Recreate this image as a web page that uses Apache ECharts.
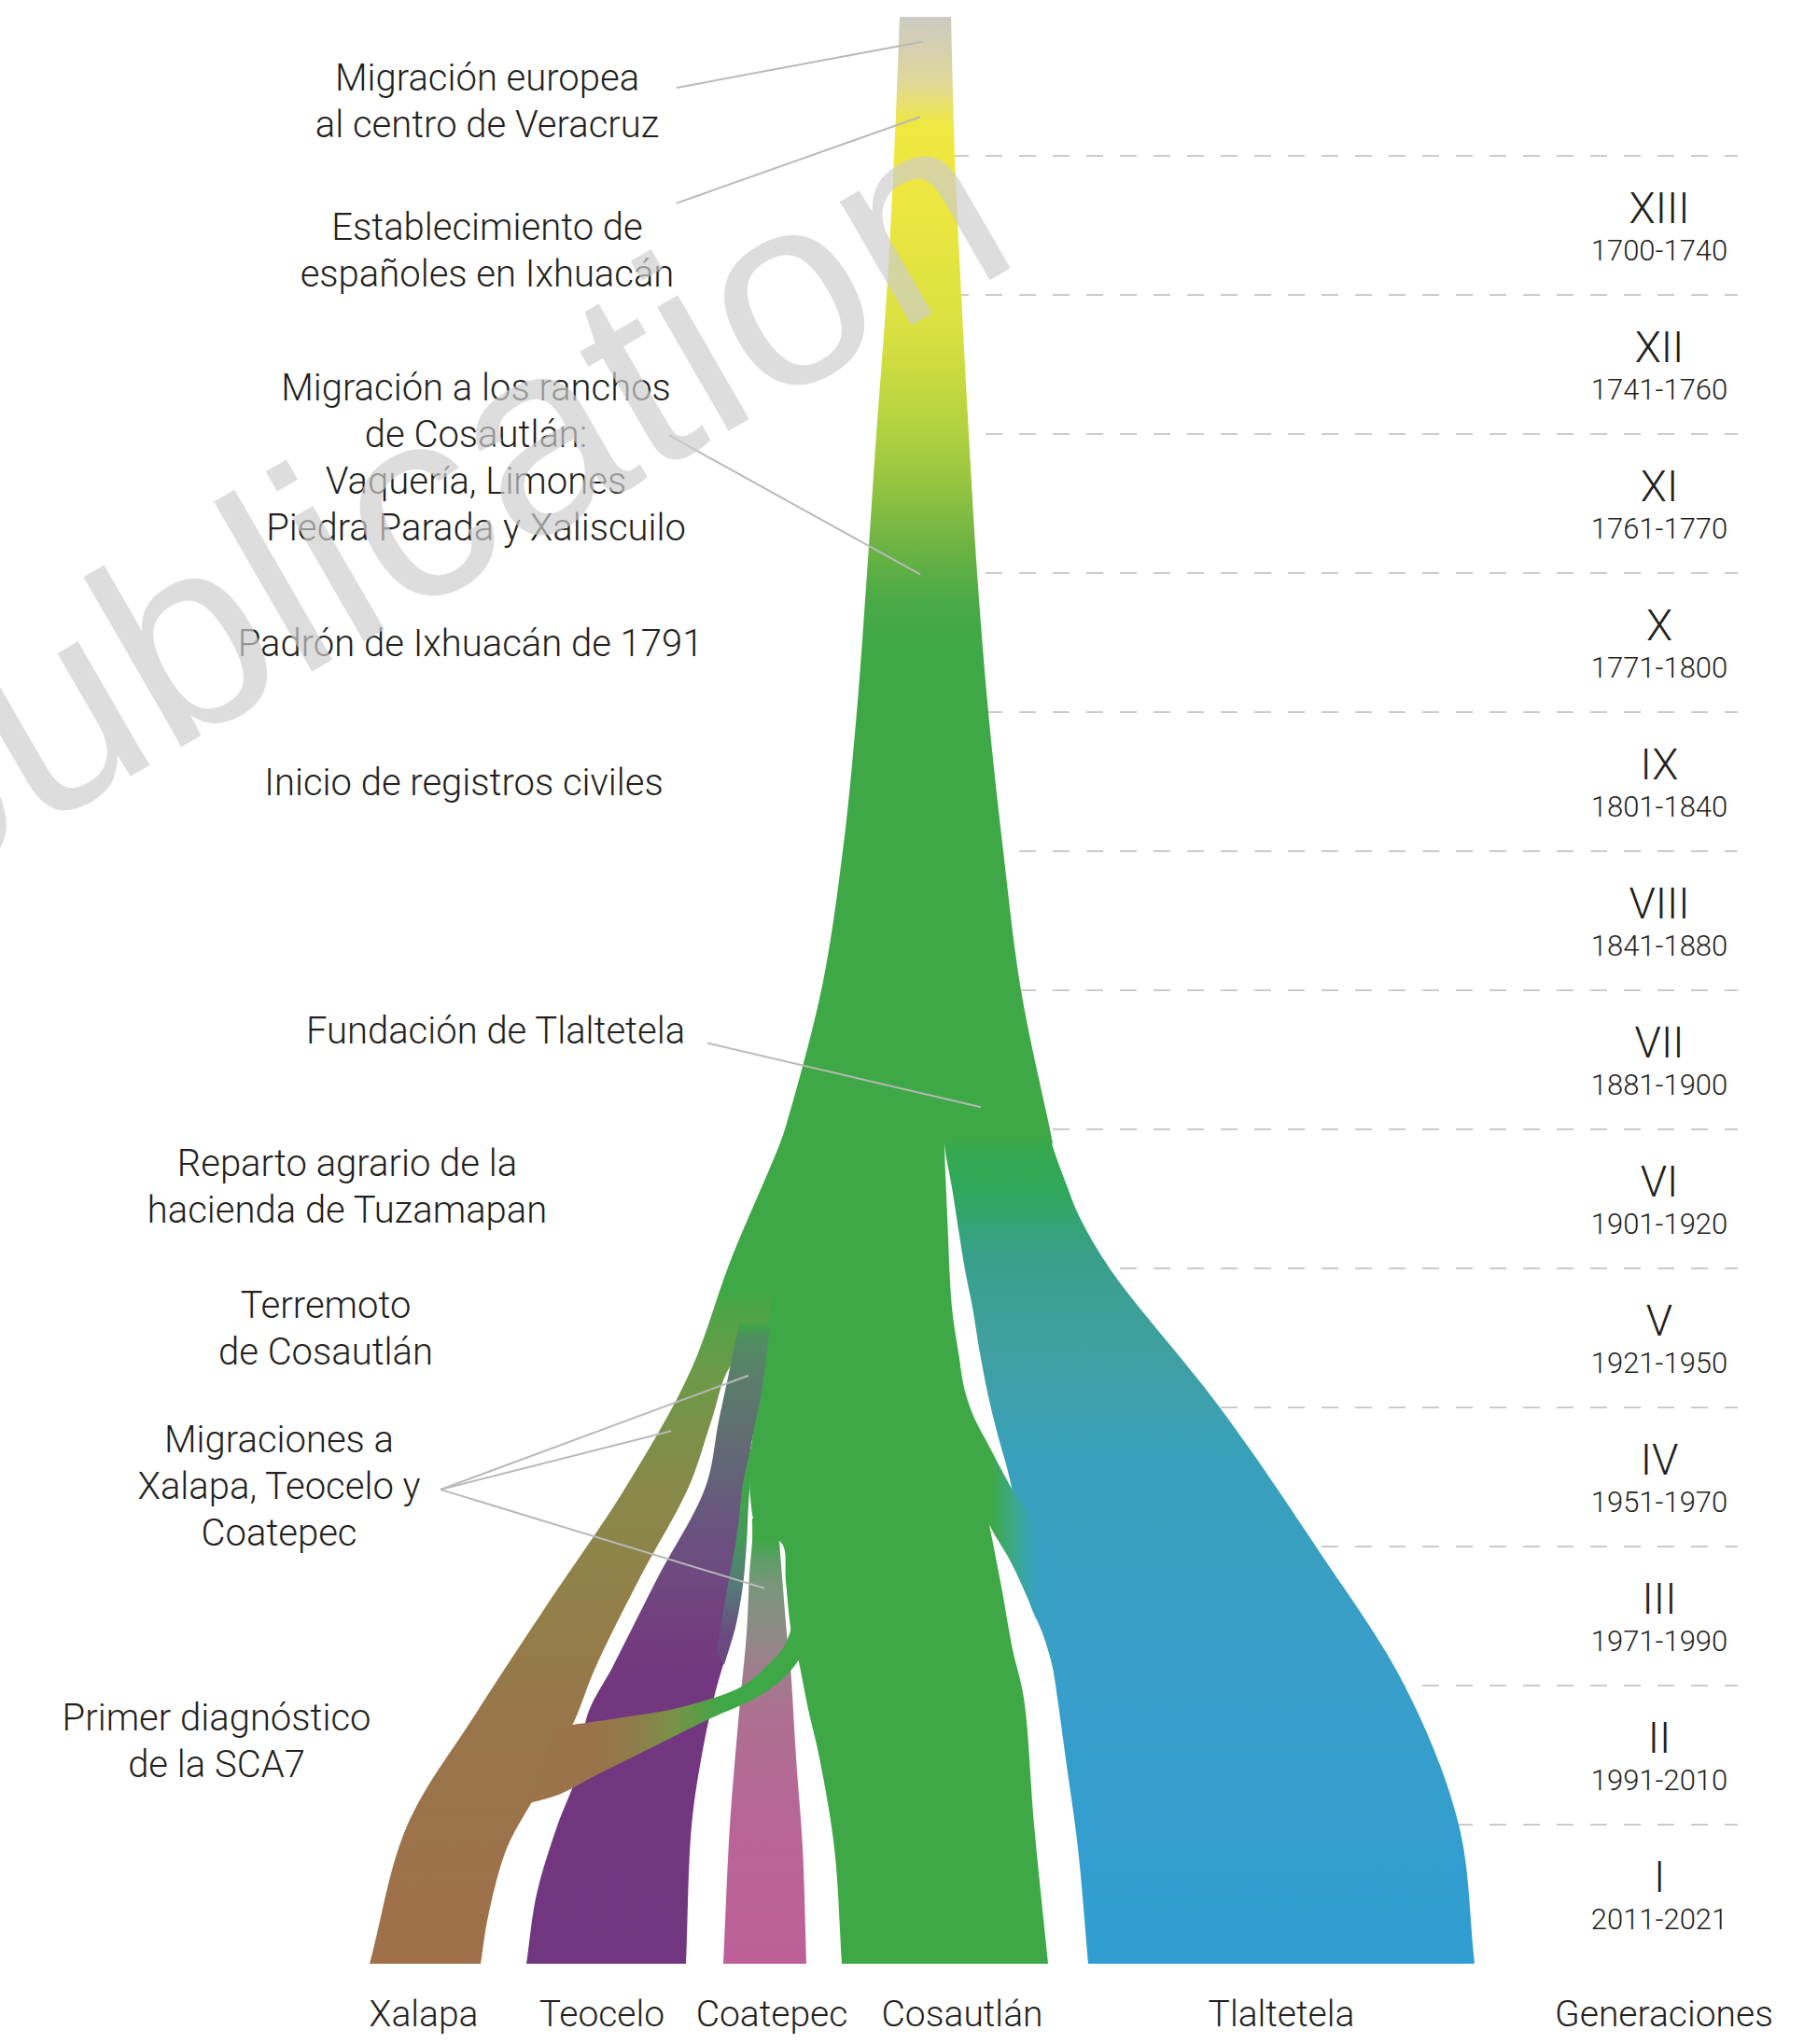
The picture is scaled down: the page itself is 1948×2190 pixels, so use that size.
<!DOCTYPE html>
<html lang="es">
<head>
  <meta charset="UTF-8">
  <meta name="viewport" content="width=device-width, initial-scale=1.0">
  <title>Generaciones SCA7</title>
  <!-- echarts -->
  <script src="https://cdn.jsdelivr.net/npm/echarts@6.0.0/dist/echarts.min.js"></script>
  <style>
    html, body { margin: 0; padding: 0; background: #fff; }
    #chart { width: 1948px; height: 2190px; }
  </style>
</head>
<body>
  <div id="chart"></div>
  <script type="text/javascript">
    // generaciones, de la mas antigua (arriba) a la mas reciente (abajo)
    var generations = ['XIII', 'XII', 'XI', 'X', 'IX', 'VIII', 'VII', 'VI', 'V', 'IV', 'III', 'II', 'I'];
    var genYears = ['1700-1740', '1741-1760', '1761-1770', '1771-1800', '1801-1840', '1841-1880',
                    '1881-1900', '1901-1920', '1921-1950', '1951-1970', '1971-1990', '1991-2010', '2011-2021'];
    var genBounds = [1, 2, 3, 4, 5, 6, 7, 8, 9, 10, 11, 12, 13];

    // bordes de cada rama: [posicion horizontal, nivel generacional (0 = hoy, 14 = origen)]
    var trunkLeft  = [[964, 14], [958, 13], [950, 12], [939, 11], [929, 10], [918, 9], [903, 8], [880, 7], [841, 6], [836, 5.9]];
    var trunkRight = [[1019, 14], [1023, 13], [1030, 12], [1038, 11], [1047, 10], [1059, 9], [1075, 8], [1094, 7], [1125, 6], [1128, 5.9]];

    var tlalLeft  = [[1012, 6.3], [1012, 5.9], [1020, 5.58], [1034, 4.99], [1042, 4.72], [1050, 4.39], [1060, 4.05], [1070, 3.78], [1080, 3.54],
                     [1086, 3.35], [1092, 3.0], [1103, 2.6], [1117, 2.38], [1127, 2.16], [1133, 1.91], [1142, 1.47], [1155, 0.83], [1166, 0]];
    var tlalRight = [[1114, 6.3], [1127, 5.9], [1144, 5.58], [1156, 5.38], [1190, 4.99], [1307, 4.0], [1411, 2.99], [1505, 2.0], [1563, 1.0], [1580, 0]];

    var cosLeft  = [[880, 6.3], [862, 5.9], [840, 5.4], [825, 4.7], [815, 4.3], [808, 3.9], [804, 3.6], [804, 3.35], [812, 3.12], [838, 3.02],
                    [842, 2.75], [848, 2.38], [855, 2.2], [866, 1.83], [878, 1.48], [894, 0.83], [902, 0]];
    var cosRight = [[1012, 6.3], [1012, 5.9], [1015, 5.38], [1020, 4.72], [1027, 4.39], [1032, 4.17], [1040, 3.92], [1050, 3.52], [1060, 3.16],
                    [1073, 2.71], [1085, 2.26], [1097, 1.91], [1108, 1.0], [1123, 0]];

    var xalLeft  = [[855, 6.3], [841, 5.99], [783, 5.06], [739, 4.25], [668, 3.4], [590, 2.62], [510, 1.8], [436, 0.99], [396, 0]];
    var xalRight = [[900, 6.3], [868, 5.4], [836, 4.75], [806, 4.45], [781, 4.28], [762, 3.9], [738, 3.43], [686, 2.78], [638, 2.13],
                    [615, 1.74], [592, 1.45], [572, 1.19], [543, 0.83], [523, 0.34], [515, 0]];

    var teoLeft  = [[792, 4.6], [787, 4.45], [782, 4.28], [770, 3.9], [756, 3.43], [705, 2.78], [656, 2.13], [630, 1.8], [618, 1.36], [597, 0.99], [575, 0.5], [564, 0]];
    var teoRight = [[825, 4.6], [823, 4.47], [815, 4.07], [808, 3.85], [803, 3.63], [801, 3.38], [799, 3.05], [794, 2.71], [786, 2.41],
                    [766, 1.94], [752, 1.5], [741, 0.99], [735, 0]];

    var cooLeft  = [[806, 3.2], [806, 3.05], [803, 2.8], [800, 2.38], [792, 1.81], [782, 0.99], [775, 0]];
    var cooRight = [[834, 3.2], [835, 3.05], [839, 2.7], [843, 2.38], [847, 2.13], [853, 1.48], [860, 0.83], [864, 0]];

    // cruces entre ramas
    var cosTlalA = [[1027, 4.39], [1032, 4.17], [1043, 3.94], [1060, 3.72], [1083, 3.43], [1100, 3.25], [1120, 3.0]];
    var cosTlalB = [[1022, 4.3], [1035, 3.8], [1048, 3.4], [1060, 3.16], [1083, 2.89], [1103, 2.6], [1117, 2.38], [1127, 2.16], [1132, 2.0]];
    var cosTeoA  = [[812, 3.75], [805, 3.55], [802, 3.3], [800, 3.03], [796, 2.72], [788, 2.42], [776, 2.15]];
    var cosTeoB  = [[806, 3.75], [796, 3.45], [790, 3.1], [782, 2.8], [774, 2.5], [768, 2.25]];
    var scaA = [[858, 3.0], [852, 2.7], [849, 2.45], [840, 2.28], [826, 2.17], [805, 2.04], [788, 1.97], [727, 1.84], [666, 1.77], [615, 1.72], [595, 1.7]];
    var scaB = [[885, 2.7], [866, 2.3], [842, 2.07], [812, 1.92], [760, 1.76], [700, 1.56], [640, 1.36], [600, 1.22], [565, 1.15]];

    // colores (gradientes por nivel 'v' o por posicion 'h')
    var trunkColors = [[14, '#cccac2'], [13.52, '#e0d898'], [13.22, '#f0e840'], [12.62, '#ece640'], [11.72, '#d8e040'], [11.13, '#b8d440'],
                       [10.68, '#98c640'], [10.23, '#70b444'], [9.78, '#48aa46'], [9.41, '#3ea846']];
    var tlalColors = [[6.3, '#3ea846'], [5.9, '#36a84e'], [5.58, '#30a85a'], [5.1, '#38a08a'], [4.45, '#40a0a0'], [3.6, '#38a0bc'],
                      [2.3, '#3a9ec8'], [0.65, '#329ed0'], [0, '#2f9dd0']];
    var xalColors = [[6.3, '#3ea846'], [4.85, '#3ea846'], [4.6, '#55a247'], [4.25, '#6c9a48'], [3.43, '#88894a'], [2.62, '#928049'],
                     [1.8, '#98764a'], [0.5, '#9e714a'], [0, '#9f704a']];
    var teoColors = [[4.6, '#3ea846'], [4.5, '#4f8e60'], [4.2, '#5b7d6c'], [3.87, '#5f7070'], [3.53, '#636478'], [3.2, '#6a5580'],
                     [2.73, '#6e487f'], [2.5, '#71407f'], [2.05, '#72377f'], [0, '#71367f']];
    var cooColors = [[3.2, '#3ea846'], [3.05, '#3ea846'], [2.9, '#5e9c68'], [2.73, '#78977a'], [2.38, '#908a88'], [1.81, '#ad7090'],
                     [1.0, '#b86598'], [0, '#bd5f98']];
    var cosTlalColors = [[1062, '#3ea846'], [1088, '#3aa890'], [1112, '#38a0c4']];
    var cosTeoColors = [[3.5, '#3ea846'], [3.05, '#44985a'], [2.7, '#56777a'], [2.35, '#6c4a80']];
    var scaColors = [[775, '#3ea846'], [720, '#7a9048'], [680, '#8e7c4a'], [640, '#9a734a']];

    // eventos historicos
    var eventTexts = ['Migración europea\nal centro de Veracruz', 'Establecimiento de\nespañoles en Ixhuacán',
      'Migración a los ranchos\nde Cosautlán:\nVaquería, Limones\nPiedra Parada y Xaliscuilo',
      'Padrón de Ixhuacán de 1791', 'Inicio de registros civiles', 'Fundación de Tlaltetela',
      'Reparto agrario de la\nhacienda de Tuzamapan', 'Terremoto\nde Cosautlán',
      'Migraciones a\nXalapa, Teocelo y\nCoatepec', 'Primer diagnóstico\nde la SCA7'];
    var eventLevels = [13.39, 12.32, 10.83, 9.49, 8.49, 6.71, 5.59, 4.57, 3.43, 1.6];
    var eventPos = [522, 522, 510, 504, 497, 531, 372, 349, 299, 232];
    // lineas guia: [x1, nivel1, x2, nivel2]
    var leaderLines = [[725, 13.49, 988, 13.82], [725, 12.66, 986, 13.28], [717, 10.99, 986, 9.99],
      [758, 6.62, 1051, 6.16], [472, 3.41, 802, 4.23], [472, 3.41, 719, 3.83], [472, 3.41, 819, 2.7]];

    // localidades al pie
    var places = ['Xalapa', 'Teocelo', 'Coatepec', 'Cosautlán', 'Tlaltetela', 'Generaciones'];
    var placePos = [454, 645, 827, 1031, 1373, 1783];

    var labelX = 1778;
    var dashAnchor = 1056, dashEnd = 1862;

    // orden de dibujo: de atras hacia adelante
    var ribbons = [
      { a: tlalLeft, b: tlalRight, fill: ['v', tlalColors] },
      { a: xalLeft, b: xalRight, fill: ['v', xalColors] },
      { a: cosLeft, b: cosRight, fill: '#3ea846' },
      { a: trunkLeft, b: trunkRight, fill: ['v', trunkColors] },
      { a: cosTlalA, b: cosTlalB, fill: ['h', cosTlalColors] },
      { a: teoLeft, b: teoRight, fill: ['v', teoColors] },
      { a: cosTeoA, b: cosTeoB, fill: ['v', cosTeoColors] },
      { a: cooLeft, b: cooRight, fill: ['v', cooColors] },
      { a: scaA, b: scaB, fill: ['h', scaColors] }
    ];

    // curva centripeta de Catmull-Rom en pixeles
    function smooth(pts, steps) {
      var out = [], n = pts.length;
      function d(p, q) { return Math.pow(Math.hypot(q[0] - p[0], q[1] - p[1]), 0.5) || 1e-4; }
      function lerp(p, q, t0, t1, t) {
        var k = (t - t0) / (t1 - t0);
        return [p[0] + (q[0] - p[0]) * k, p[1] + (q[1] - p[1]) * k];
      }
      for (var i = 0; i < n - 1; i++) {
        var p1 = pts[i], p2 = pts[i + 1];
        var p0 = i > 0 ? pts[i - 1] : [2 * p1[0] - p2[0], 2 * p1[1] - p2[1]];
        var p3 = i < n - 2 ? pts[i + 2] : [2 * p2[0] - p1[0], 2 * p2[1] - p1[1]];
        var t0 = 0, t1 = t0 + d(p0, p1), t2 = t1 + d(p1, p2), t3 = t2 + d(p2, p3);
        for (var s = 0; s < steps; s++) {
          var t = t1 + (t2 - t1) * s / steps;
          var a1 = lerp(p0, p1, t0, t1, t), a2 = lerp(p1, p2, t1, t2, t), a3 = lerp(p2, p3, t2, t3, t);
          var b1 = lerp(a1, a2, t0, t2, t), b2 = lerp(a2, a3, t1, t3, t);
          out.push(lerp(b1, b2, t1, t2, t));
        }
      }
      out.push(pts[n - 1]);
      return out;
    }

    function outline(r, api) {
      var a = r.a.map(function (p) { return api.coord(p); });
      var b = r.b.map(function (p) { return api.coord(p); });
      return smooth(a, 14).concat(smooth(b, 14).reverse());
    }

    function makeFill(fill, api) {
      if (typeof fill === 'string') return fill;
      var stops = fill[1], vert = fill[0] === 'v';
      var pos = stops.map(function (s) { return vert ? api.coord([0, s[0]])[1] : api.coord([s[0], 0])[0]; });
      var p0 = pos[0], p1 = pos[pos.length - 1];
      var cs = stops.map(function (s, i) { return { offset: (pos[i] - p0) / (p1 - p0), color: s[1] }; });
      return vert ? new echarts.graphic.LinearGradient(0, p0, 0, p1, cs, true)
                  : new echarts.graphic.LinearGradient(p0, 0, p1, 0, cs, true);
    }

    function rightEdgeAt(y, api) {
      var best = -Infinity;
      ribbons.forEach(function (r) {
        var o = outline(r, api);
        for (var i = 0; i < o.length; i++) {
          var p = o[i], q = o[(i + 1) % o.length];
          if ((p[1] - y) * (q[1] - y) <= 0 && p[1] !== q[1]) {
            var x = p[0] + (y - p[1]) / (q[1] - p[1]) * (q[0] - p[0]);
            if (x > best) best = x;
          }
        }
      });
      return best;
    }

    var font = 'Roboto, "Noto Sans", sans-serif';
    var ink = '#231f20';

    var myChart = echarts.init(document.getElementById('chart'), null, { renderer: 'svg' });
    var option = {
      animation: false,
      backgroundColor: '#ffffff',
      grid: { left: 0, right: 0, top: 18, bottom: 86 },
      xAxis: { type: 'value', min: 0, max: 1948, show: false },
      yAxis: { type: 'value', min: 0, max: 14, show: false },
      graphic: [{
        type: 'text', x: 1121, y: 316, rotation: 30 * Math.PI / 180, z: 100, silent: true,
        style: { text: 'publication', fill: 'rgba(205,205,205,0.68)', fontSize: 290,
                 fontFamily: '"Liberation Sans", Arial, sans-serif', align: 'right', verticalAlign: 'bottom' }
      }],
      series: [
        {
          // lineas punteadas entre generaciones
          type: 'custom', z: 1, silent: true,
          data: genBounds.map(function (v) { return [dashEnd, v]; }),
          renderItem: function (params, api) {
            var v = genBounds[params.dataIndex];
            var y = api.coord([0, v])[1];
            var start = rightEdgeAt(y, api);
            var end = api.coord([dashEnd, v])[0];
            var anchor = api.coord([dashAnchor, v])[0];
            var phase = ((start - anchor) % 36 + 36) % 36;
            return { type: 'line', shape: { x1: start, y1: y, x2: end, y2: y },
                     style: { stroke: '#cbcbcb', lineWidth: 2, lineDash: [18, 18], lineDashOffset: phase } };
          }
        },
        {
          // ramas
          type: 'custom', z: 2, silent: true,
          data: ribbons.map(function (r) { return r.a[0]; }),
          renderItem: function (params, api) {
            var r = ribbons[params.dataIndex];
            return { type: 'polygon', shape: { points: outline(r, api) },
                     style: { fill: makeFill(r.fill, api), lineWidth: 0 } };
          }
        },
        {
          // lineas guia
          type: 'custom', z: 3, silent: true,
          data: leaderLines,
          renderItem: function (params, api) {
            var l = leaderLines[params.dataIndex];
            var p = api.coord([l[0], l[1]]), q = api.coord([l[2], l[3]]);
            return { type: 'line', shape: { x1: p[0], y1: p[1], x2: q[0], y2: q[1] },
                     style: { stroke: '#b9b9b9', lineWidth: 2 } };
          }
        },
        {
          // eventos
          type: 'custom', z: 4, silent: true,
          data: eventLevels.map(function (v, i) { return [eventPos[i], v]; }),
          renderItem: function (params, api) {
            var i = params.dataIndex;
            var p = api.coord([eventPos[i], eventLevels[i]]);
            return { type: 'text', x: p[0], y: p[1],
                     style: { text: eventTexts[i], fill: ink, fontSize: 40, fontWeight: 300, fontFamily: font,
                              align: 'center', verticalAlign: 'middle', lineHeight: 50 } };
          }
        },
        {
          // generaciones
          type: 'custom', z: 4, silent: true,
          data: generations.map(function (g, i) { return [labelX, 12.5 - i]; }),
          renderItem: function (params, api) {
            var i = params.dataIndex;
            var p = api.coord([labelX, 12.5 - i]);
            return { type: 'group', children: [
              { type: 'text', x: p[0], y: p[1] - 19,
                style: { text: generations[i], fill: ink, fontSize: 46, fontWeight: 300, fontFamily: font,
                         align: 'center', verticalAlign: 'middle' } },
              { type: 'text', x: p[0], y: p[1] + 27,
                style: { text: genYears[i], fill: ink, fontSize: 31, fontWeight: 300, fontFamily: font,
                         align: 'center', verticalAlign: 'middle' } }
            ] };
          }
        },
        {
          // localidades al pie
          type: 'custom', z: 4, silent: true,
          data: placePos.map(function (x) { return [x, 0]; }),
          renderItem: function (params, api) {
            var i = params.dataIndex;
            var p = api.coord([placePos[i], -0.36]);
            return { type: 'text', x: p[0], y: p[1],
                     style: { text: places[i], fill: ink, fontSize: 39, fontWeight: 300, fontFamily: font,
                              align: 'center', verticalAlign: 'middle' } };
          }
        }
      ]
    };
    option && myChart.setOption(option);
  </script>
</body>
</html>
